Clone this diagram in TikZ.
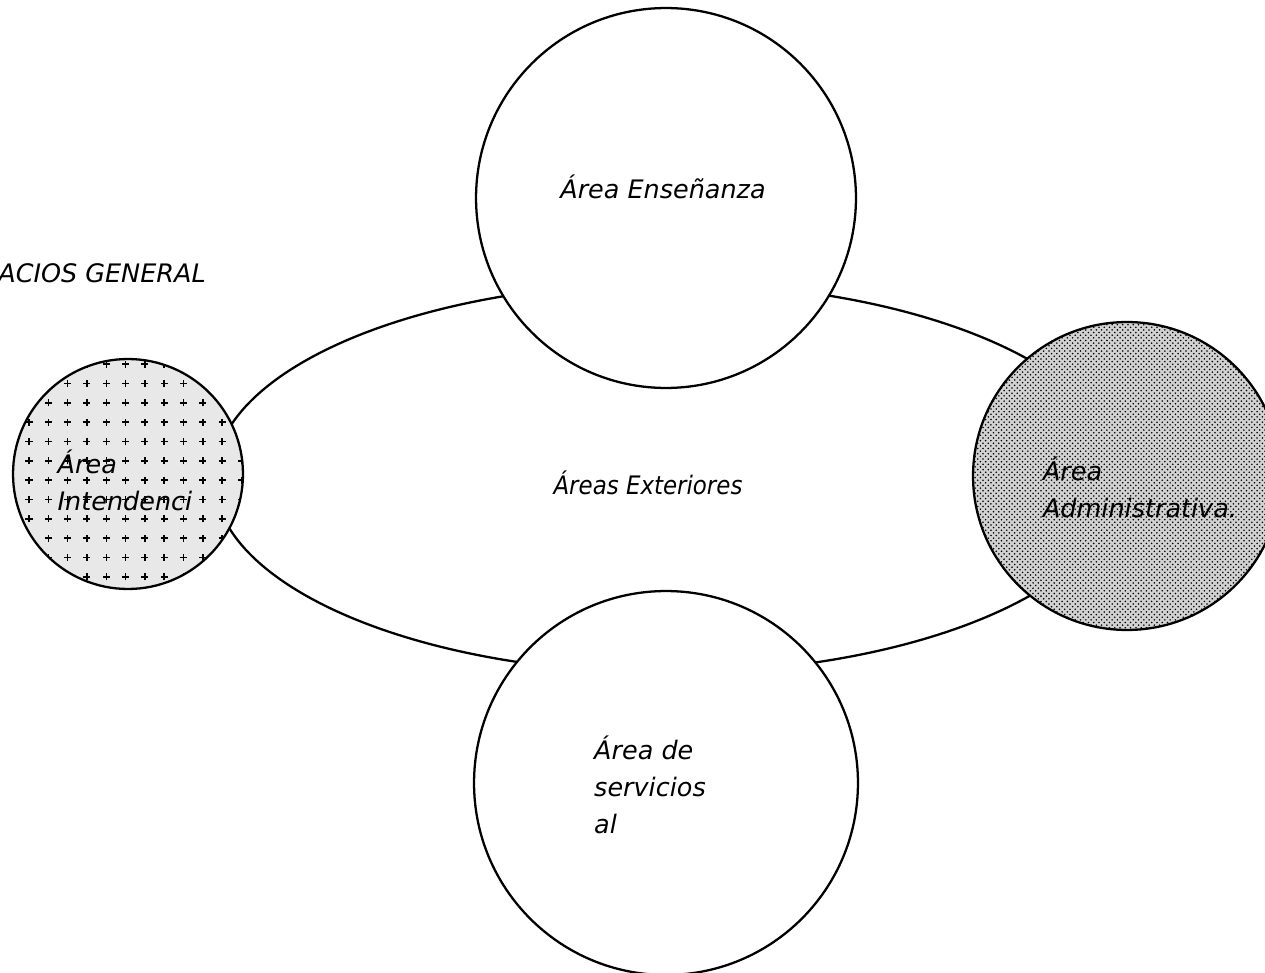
\documentclass[tikz,border=0pt]{standalone}
\usepackage{fontspec}
\setmainfont{DejaVu Sans}
\newfontfamily\condfont{DejaVu Sans Condensed}
\usepackage{tikz}
\usetikzlibrary{shapes,positioning,patterns}

% sparse plus signs for the stores area
\pgfdeclarepatternformonly{plus marks}{\pgfpoint{-1pt}{-1pt}}{\pgfpoint{12pt}{12pt}}{\pgfpoint{11pt}{11pt}}{
  \pgfsetlinewidth{0.9pt}
  \pgfpathmoveto{\pgfpoint{3.5pt}{5.5pt}}\pgfpathlineto{\pgfpoint{7.5pt}{5.5pt}}
  \pgfpathmoveto{\pgfpoint{5.5pt}{3.5pt}}\pgfpathlineto{\pgfpoint{5.5pt}{7.5pt}}
  \pgfusepath{stroke}}

\tikzset{
  zone/.style={circle, draw, line width=1.3pt, fill=white, inner sep=0pt},
  lbl/.style={font=\itshape\fontsize{14.5}{21}\selectfont, align=left, inner sep=0pt},
}

\begin{document}
\begin{tikzpicture}[x=0.02cm, y=-0.02cm]
    \useasboundingbox (0,0) rectangle (1265,973);
    \clip (0,0) rectangle (1265,973);

    % outdoor ring, the other areas sit on top of it
    \node[ellipse, draw, line width=1.3pt, minimum width=18.16cm, minimum height=7.8cm, inner sep=0pt] (exterior) at (668,478) {};
    \node[zone, minimum size=7.6cm] (ensenanza) at (666,198) {};
    \node[zone, minimum size=7.68cm] (servicios) at (666,783) {};
    \node[zone, minimum size=4.6cm, fill=gray!18, postaction={pattern=plus marks}] (intendencia) at (128,474) {};
    \node[zone, minimum size=6.16cm, fill=gray!35, postaction={pattern=crosshatch dots}] (admin) at (1127,476) {};

    \node[lbl, anchor=west] (titulo) at (-2,273) {ACIOS GENERAL};
    \node[lbl] (ensenanzatxt) at (663,187) {Área Enseñanza};
    \node[lbl, font=\condfont\itshape\fontsize{14.5}{21}\selectfont] (exteriortxt) at (648,483) {Áreas Exteriores};
    \node[lbl] (intendenciatxt) at (125,480) {Área\\Intendenci};
    \node[lbl] (admintxt) at (1140,487) {Área\\Administrativa.};
    \node[lbl] (serviciostxt) at (650,785) {Área de\\servicios\\al};
\end{tikzpicture}
\end{document}
